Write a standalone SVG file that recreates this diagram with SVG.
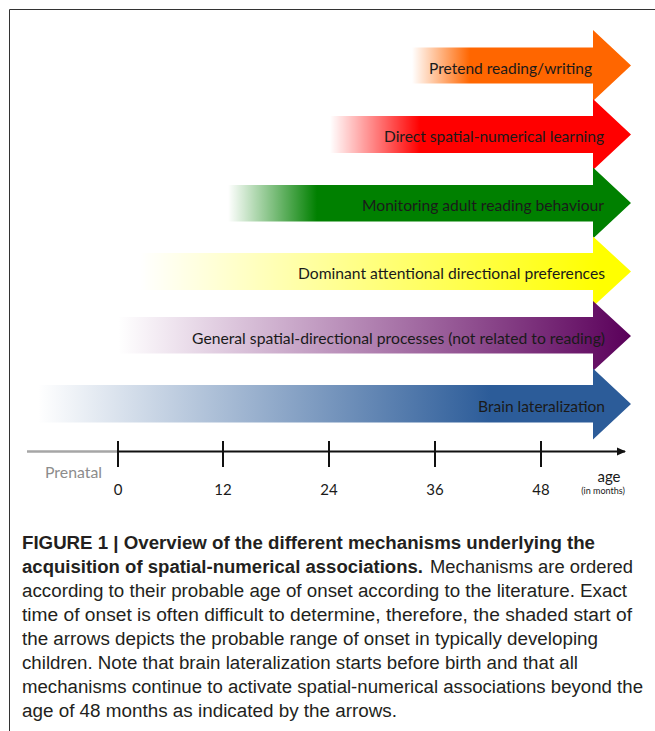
<svg xmlns="http://www.w3.org/2000/svg" width="655" height="731" viewBox="0 0 655 731">
<style>
.lbl{font-family:Lato,"Open Sans","Liberation Sans",sans-serif;font-size:16px;fill:#1a1a1a}
.num{font-family:Lato,"Liberation Sans",sans-serif;font-size:15px;fill:#1a1a1a;text-anchor:middle}
.cap{font-family:"Liberation Sans",Arial,sans-serif;font-size:18px;fill:#231f20}
.b{font-weight:bold}
.tick{stroke:#111;stroke-width:2}
</style>
<defs>
<linearGradient id="gOr" gradientUnits="userSpaceOnUse" x1="412" y1="0" x2="470" y2="0"><stop offset="0" stop-color="#FF6600" stop-opacity="0"/><stop offset="1" stop-color="#FF6600"/></linearGradient>
<linearGradient id="gRe" gradientUnits="userSpaceOnUse" x1="330" y1="0" x2="420" y2="0"><stop offset="0" stop-color="#FF0000" stop-opacity="0"/><stop offset="1" stop-color="#FF0000"/></linearGradient>
<linearGradient id="gGr" gradientUnits="userSpaceOnUse" x1="228" y1="0" x2="317" y2="0"><stop offset="0" stop-color="#008000" stop-opacity="0"/><stop offset="1" stop-color="#008000"/></linearGradient>
<linearGradient id="gYe" gradientUnits="userSpaceOnUse" x1="140" y1="0" x2="600" y2="0"><stop offset="0" stop-color="#FFFF00" stop-opacity="0"/><stop offset="1" stop-color="#FFFF00"/></linearGradient>
<linearGradient id="gPu" gradientUnits="userSpaceOnUse" x1="118" y1="0" x2="630" y2="0"><stop offset="0" stop-color="#660066" stop-opacity="0"/><stop offset="1" stop-color="#5A005A"/></linearGradient>
<linearGradient id="gBl" gradientUnits="userSpaceOnUse" x1="38" y1="0" x2="490" y2="0"><stop offset="0" stop-color="#2C5C99" stop-opacity="0"/><stop offset="1" stop-color="#2C5C99"/></linearGradient>
<marker id="ah" markerWidth="10" markerHeight="10" refX="8" refY="5" orient="auto" markerUnits="userSpaceOnUse"><path d="M0,1 L9,5 L0,9 Z" fill="#111"/></marker>
</defs>
<rect width="655" height="731" fill="#fff"/>
<g id="frame" fill="none" stroke="#333" stroke-width="1">
<path d="M9.5,731 V9.5 H655"/>
</g>
<g id="arrow-pretend">
<polygon points="412,47.5 593,47.5 593,30 631,65.5 593,101 593,83.5 412,83.5" fill="url(#gOr)"/>
<text class="lbl" x="429" y="73.5" textLength="163" lengthAdjust="spacingAndGlyphs">Pretend reading/writing</text>
</g>
<g id="arrow-direct">
<polygon points="330,116 593,116 593,99 631,134.5 593,170 593,153 330,153" fill="url(#gRe)"/>
<text class="lbl" x="384" y="142" textLength="220" lengthAdjust="spacingAndGlyphs">Direct spatial-numerical learning</text>
</g>
<g id="arrow-monitoring">
<polygon points="228,185 593,185 593,167.5 631,203 593,238.5 593,221.5 228,221.5" fill="url(#gGr)"/>
<text class="lbl" x="362" y="210.5" textLength="242" lengthAdjust="spacingAndGlyphs">Monitoring adult reading behaviour</text>
</g>
<g id="arrow-dominant">
<polygon points="140,253 593,253 593,236.5 631,271.5 593,306.5 593,290 140,290" fill="url(#gYe)"/>
<text class="lbl" x="298" y="279" textLength="307" lengthAdjust="spacingAndGlyphs">Dominant attentional directional preferences</text>
</g>
<g id="arrow-general">
<polygon points="118,317 593,317 593,301 631,336 593,371 593,353.5 118,353.5" fill="url(#gPu)"/>
<text class="lbl" x="192" y="343.5" textLength="413" lengthAdjust="spacingAndGlyphs">General spatial-directional processes (not related to reading)</text>
</g>
<g id="arrow-brain">
<polygon points="38,385 593,385 593,368.5 631,404 593,439.5 593,422.5 38,422.5" fill="url(#gBl)"/>
<text class="lbl" x="478" y="411.5" textLength="127" lengthAdjust="spacingAndGlyphs">Brain lateralization</text>
</g>
<g id="connectors">
<line x1="27" y1="451.5" x2="118" y2="451.5" stroke="#a6a6a6" stroke-width="2.5"/>
<line x1="118" y1="451.5" x2="625" y2="451.5" stroke="#111" stroke-width="2" marker-end="url(#ah)"/>
</g>
<g id="axis">
<line class="tick" x1="118" y1="441" x2="118" y2="467"/>
<line class="tick" x1="223" y1="441" x2="223" y2="467"/>
<line class="tick" x1="329" y1="441" x2="329" y2="467"/>
<line class="tick" x1="435" y1="441" x2="435" y2="467"/>
<line class="tick" x1="541" y1="441" x2="541" y2="467"/>
<text x="45" y="478" font-family="Lato, Liberation Sans, sans-serif" font-size="15" fill="#8c8c8c" textLength="57" lengthAdjust="spacingAndGlyphs">Prenatal</text>
<text class="num" x="118" y="495">0</text>
<text class="num" x="223" y="495">12</text>
<text class="num" x="329" y="495">24</text>
<text class="num" x="435" y="495">36</text>
<text class="num" x="541" y="495">48</text>
<text class="num" x="609" y="482">age</text>
<text x="603" y="494" font-family="Lato, Liberation Sans, sans-serif" font-size="9" fill="#1a1a1a" text-anchor="middle">(in months)</text>
</g>
<g id="caption">
<text class="cap b" x="22" y="549" textLength="573" lengthAdjust="spacingAndGlyphs">FIGURE 1 | Overview of the different mechanisms underlying the</text>
<text class="cap b" x="22" y="573" textLength="401" lengthAdjust="spacingAndGlyphs">acquisition of spatial-numerical associations.</text>
<text class="cap" x="430" y="573" textLength="203" lengthAdjust="spacingAndGlyphs">Mechanisms are ordered</text>
<text class="cap" x="22" y="597" textLength="605" lengthAdjust="spacingAndGlyphs">according to their probable age of onset according to the literature. Exact</text>
<text class="cap" x="22" y="621" textLength="610" lengthAdjust="spacingAndGlyphs">time of onset is often difficult to determine, therefore, the shaded start of</text>
<text class="cap" x="22" y="645" textLength="576" lengthAdjust="spacingAndGlyphs">the arrows depicts the probable range of onset in typically developing</text>
<text class="cap" x="22" y="669" textLength="556" lengthAdjust="spacingAndGlyphs">children. Note that brain lateralization starts before birth and that all</text>
<text class="cap" x="22" y="693" textLength="621" lengthAdjust="spacingAndGlyphs">mechanisms continue to activate spatial-numerical associations beyond the</text>
<text class="cap" x="22" y="717" textLength="375" lengthAdjust="spacingAndGlyphs">age of 48 months as indicated by the arrows.</text>
</g>
</svg>
